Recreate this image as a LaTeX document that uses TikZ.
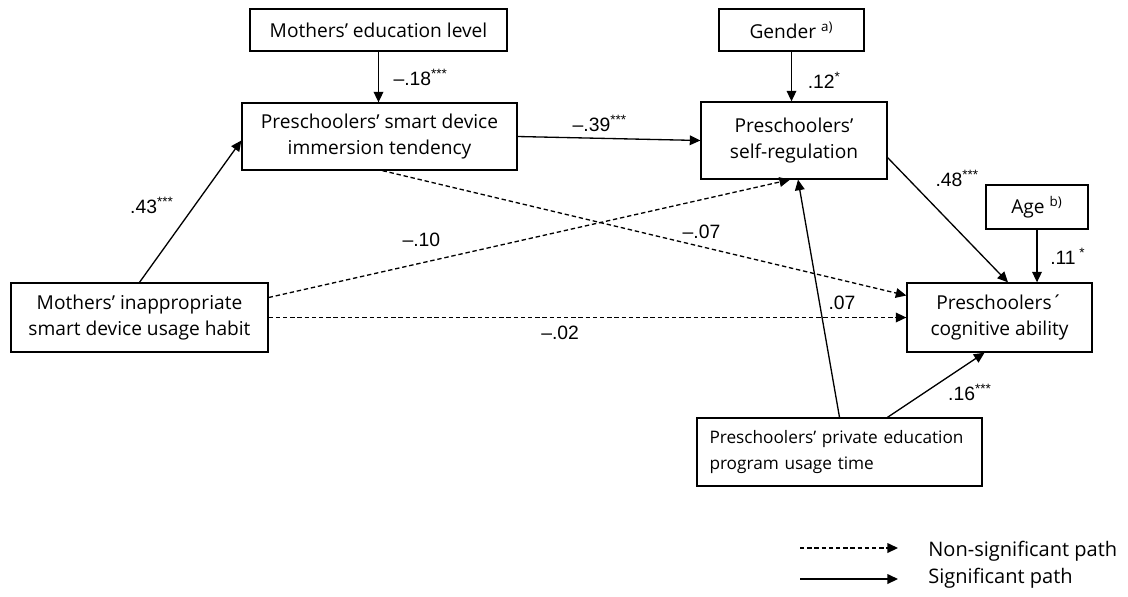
\documentclass[tikz,border=0pt]{standalone}
\usepackage{fontspec}
\setmainfont{Open Sans}
\newfontfamily\numfont{Liberation Sans}
\usetikzlibrary{arrows.meta, positioning, calc}

\begin{document}
\begin{tikzpicture}[
			x=0.02cm, y=-0.02cm,
			var/.style={rectangle, draw, line width=0.75pt, text centered, align=center, font=\fontsize{10.9}{15}\selectfont, inner sep=0pt},
			coef/.style={font=\numfont\fontsize{11}{12}\selectfont, inner sep=1pt},
			sig/.style={-{Triangle[length=6pt, width=5.5pt]}, line width=0.75pt},
			nonsig/.style={sig, dash pattern=on 2.5pt off 1.6pt},
			]
			\useasboundingbox (0,0) rectangle (1128,596);
			
			% Nodes
			\node (edu) [var, minimum width=257*0.02cm, minimum height=42*0.02cm] at (378.5,30) {Mothers’ education level};
			\node (imm) [var, minimum width=275*0.02cm, minimum height=67*0.02cm] at (379.5,136.5) {Preschoolers’ smart device\\immersion tendency};
			\node (gender) [var, minimum width=145*0.02cm, minimum height=42*0.02cm] at (791.5,30) {Gender \textsuperscript{a)}};
			\node (selfreg) [var, minimum width=186*0.02cm, minimum height=77*0.02cm] at (794,140.5) {Preschoolers’\\self-regulation};
			\node (age) [var, minimum width=102*0.02cm, minimum height=44*0.02cm] at (1037,207) {Age \textsuperscript{b)}};
			\node (cog) [var, minimum width=185*0.02cm, minimum height=69*0.02cm] at (999.5,317.5) {Preschoolers´\\cognitive ability};
			\node (inapp) [var, minimum width=257*0.02cm, minimum height=69*0.02cm] at (139.5,317.5) {Mothers’ inappropriate\\smart device usage habit};
			\node (priv) [var, minimum width=285*0.02cm, minimum height=68*0.02cm, text width=260*0.02cm, align=left, font=\fontsize{9.8}{15}\selectfont] at (839.5,452) {\makebox[\linewidth][s]{Preschoolers’ private education}\\program usage time};
			
			% Arrows
			\draw[sig] (edu.south) -- node[coef, midway, xshift=24pt] {–.18\textsuperscript{***}} (edu.south |- imm.north);
			\draw[sig] (inapp.north) -- node[coef, pos=.545, xshift=-24.5pt] {.43\textsuperscript{***}} ($(imm.west)+(0,4)$);
			\draw[sig] (imm.east) -- node[coef, pos=.45, yshift=8.7pt] {–.39\textsuperscript{***}} (selfreg.west);
			\draw[sig] (gender.south) -- node[coef, midway, xshift=18.7pt, yshift=-2pt] {.12\textsuperscript{*}} (gender.south |- selfreg.north);
			\draw[sig] ($(selfreg.south east)+(0,-22)$) -- node[coef, pos=.17, xshift=28pt] {.48\textsuperscript{***}} ($(cog.north)+(8.5,0)$);
			\draw[sig] (age.south) -- node[coef, midway, xshift=17.6pt] {.11\textsuperscript{ *}} (age.south |- cog.north);
			\draw[nonsig] ($(imm.south)+(3,0)$) -- node[coef, pos=.609, yshift=8.2pt] {–.07} ($(cog.west)+(0,-22)$);
			\draw[nonsig] ($(inapp.east)+(0,-20)$) -- node[coef, pos=.293, yshift=12.9pt] {–.10} ($(selfreg.south)+(-4,0)$);
			\draw[nonsig] (inapp.east) -- node[coef, pos=.457, yshift=-8.8pt] {–.02} (cog.west);
			\draw[sig] (priv.north) -- node[coef, pos=.481, xshift=12.8pt] {.07} ($(selfreg.south)+(4,0)$);
			\draw[sig] ($(priv.north)+(48,0)$) -- node[coef, pos=.6, xshift=13.8pt, yshift=-7.7pt] {.16\textsuperscript{***}} ($(cog.south)+(-15,0)$);
			
			% Legend
			\coordinate (ns) at (800,548);
			\coordinate (nsend) at (898,548);
			\coordinate (s) at (800,579);
			\coordinate (send) at (898,579);
			\node (nslabel) [anchor=west, font=\fontsize{11.4}{13}\selectfont, inner sep=0pt] at (928,551) {Non-significant path};
			\node (slabel) [anchor=west, font=\fontsize{11.4}{13}\selectfont, inner sep=0pt] at (928,578) {Significant path};
			\draw[nonsig] (ns) -- (nsend);
			\draw[sig] (s) -- (send);
		\end{tikzpicture}
\end{document}
